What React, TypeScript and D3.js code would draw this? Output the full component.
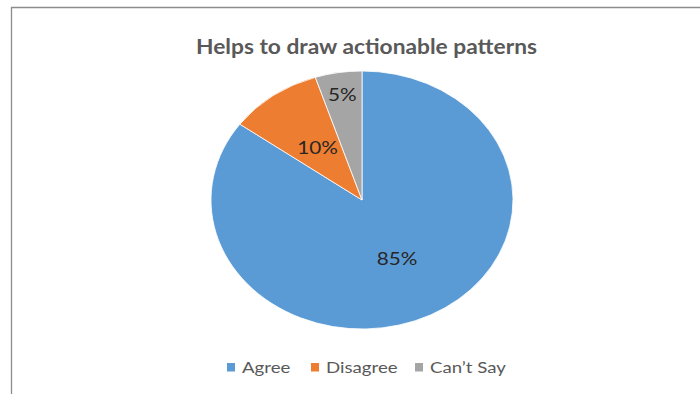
import React from "react";
import * as d3 from "d3";

const categories = ["Agree", "Disagree", "Can\u2019t Say"];
const values = [85, 10, 5];
const labels = ["85%", "10%", "5%"];
const colors = ["#5B9BD5", "#ED7D31", "#A5A5A5"];
const labelRadius = [0.51, 0.5, 0.83];
const title = "Helps to draw actionable patterns";

const W = 700;
const H = 394;
const cx = 362;
const cy = 200;
const rx = 151;
const ry = 129;

export default function App() {
  const pie = d3.pie<number>().sort(null).value((d) => d);
  const arcs = pie(values);
  const arc = d3.arc<d3.PieArcDatum<number>>().innerRadius(0).outerRadius(rx);

  const legendX = [227, 311, 415];
  const font = "Lato, 'Open Sans', sans-serif";

  return (
    <svg
      width={W}
      height={H}
      style={{ position: "absolute", left: 0, top: 0, background: "#fff" }}
      fontFamily={font}
    >
      <rect x={0} y={0} width={W} height={H} fill="#fff" />
      <path d={`M11.5,${H} V7.5 H${W}`} fill="none" stroke="#8c8c8c" strokeWidth={1.3} />
      <text
        x={366.5}
        y={53.5}
        textAnchor="middle"
        fontSize={20}
        fontWeight="bold"
        fill="#595959"
        textLength={341}
        lengthAdjust="spacingAndGlyphs"
      >
        {title}
      </text>
      <g transform={`translate(${cx},${cy}) scale(1,${ry / rx})`}>
        {arcs.map((a, i) => (
          <path
            key={i}
            d={arc(a) as string}
            fill={colors[i]}
            stroke="#fff"
            strokeWidth={0.8}
            vectorEffect="non-scaling-stroke"
          />
        ))}
      </g>
      {arcs.map((a, i) => {
        const mid = (a.startAngle + a.endAngle) / 2;
        const x = cx + Math.sin(mid) * rx * labelRadius[i];
        const y = cy - Math.cos(mid) * ry * labelRadius[i];
        return (
          <g key={i} transform={`translate(${x},${y}) scale(1.15,1)`}>
            <text dy="0.35em" textAnchor="middle" fontSize={18} fill="#262626">
              {labels[i]}
            </text>
          </g>
        );
      })}
      {categories.map((c, i) => (
        <g key={c} transform={`translate(${legendX[i]},0)`}>
          <rect x={0} y={363} width={8} height={8.5} fill={colors[i]} />
          <g transform="translate(15,373) scale(1.22,1)">
            <text fontSize={15.3} fill="#595959">
              {c}
            </text>
          </g>
        </g>
      ))}
    </svg>
  );
}
